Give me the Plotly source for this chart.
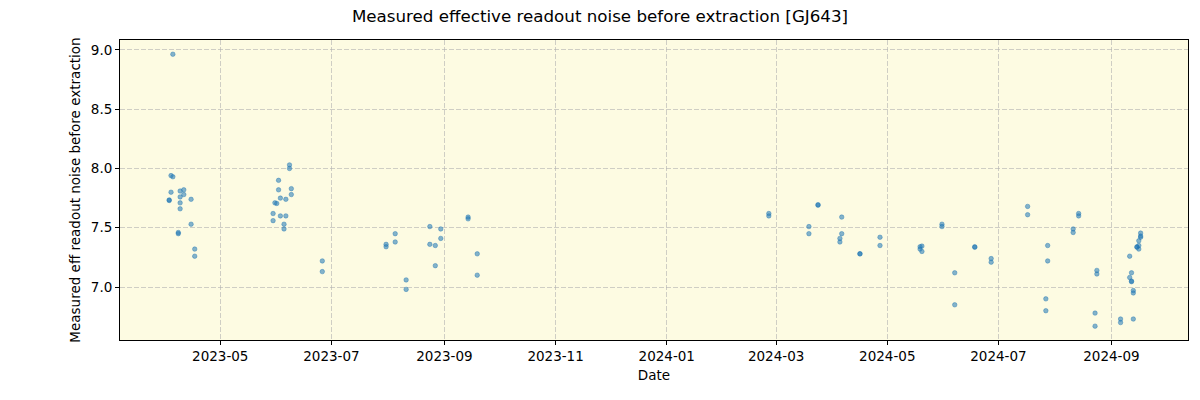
import plotly.graph_objects as go

dates = [
    "2023-04-05", "2023-04-04", "2023-04-05", "2023-04-04", "2023-04-03", "2023-04-03",
    "2023-04-09", "2023-04-11", "2023-04-09", "2023-04-11", "2023-04-09", "2023-04-09",
    "2023-04-15", "2023-04-15", "2023-04-08", "2023-04-08", "2023-04-17", "2023-04-17",
    "2023-06-08", "2023-06-08", "2023-06-02", "2023-06-02", "2023-06-09", "2023-06-09",
    "2023-06-03", "2023-06-06", "2023-05-31", "2023-06-01", "2023-05-30", "2023-06-03",
    "2023-06-06", "2023-05-30", "2023-06-05", "2023-06-05", "2023-06-26", "2023-06-26",
    "2023-07-31", "2023-07-31", "2023-08-05", "2023-08-05", "2023-08-11", "2023-08-11",
    "2023-08-24", "2023-08-24", "2023-08-27", "2023-08-27", "2023-08-30", "2023-08-30",
    "2023-09-14", "2023-09-14", "2023-09-19", "2023-09-19",
    "2024-02-26", "2024-02-26", "2024-03-24", "2024-03-24", "2024-03-19", "2024-03-19",
    "2024-04-06", "2024-04-06", "2024-04-05", "2024-04-05", "2024-04-16", "2024-04-16",
    "2024-04-27", "2024-04-27", "2024-05-19", "2024-05-20", "2024-05-19", "2024-05-20",
    "2024-05-31", "2024-05-31", "2024-06-18", "2024-06-18", "2024-06-07", "2024-06-07",
    "2024-06-27", "2024-06-27", "2024-07-17", "2024-07-17", "2024-07-28", "2024-07-28",
    "2024-07-27", "2024-07-27", "2024-08-11", "2024-08-11", "2024-08-14", "2024-08-14",
    "2024-08-24", "2024-08-24", "2024-08-23", "2024-08-23", "2024-09-06", "2024-09-06",
    "2024-09-13", "2024-09-11", "2024-09-12", "2024-09-11", "2024-09-12", "2024-09-12",
    "2024-09-13", "2024-09-13", "2024-09-17", "2024-09-17", "2024-09-17", "2024-09-16",
    "2024-09-15", "2024-09-15", "2024-09-16", "2024-09-16",
]
noise = [
    8.964, 7.94, 7.93, 7.80, 7.73, 7.735,
    7.81, 7.82, 7.76, 7.78, 7.71, 7.66,
    7.74, 7.53, 7.46, 7.45, 7.32, 7.26,
    8.03, 8.00, 7.90, 7.82, 7.83, 7.78,
    7.75, 7.74, 7.71, 7.705, 7.62, 7.60,
    7.60, 7.56, 7.53, 7.49, 7.22, 7.13,
    7.36, 7.34, 7.45, 7.38, 7.06, 6.98,
    7.51, 7.36, 7.35, 7.18, 7.49, 7.41,
    7.59, 7.575, 7.28, 7.10,
    7.62, 7.60, 7.69, 7.695, 7.51, 7.45,
    7.59, 7.45, 7.41, 7.38, 7.28, 7.28,
    7.42, 7.35, 7.34, 7.345, 7.32, 7.30,
    7.53, 7.51, 7.335, 7.34, 7.12, 6.85,
    7.24, 7.21, 7.68, 7.61, 7.35, 7.22,
    6.90, 6.80, 7.49, 7.46, 7.62, 7.60,
    7.14, 7.11, 6.78, 6.67, 6.73, 6.70,
    6.73, 7.26, 7.12, 7.08, 7.05, 7.045,
    6.97, 6.95, 7.455, 7.43, 7.42, 7.39,
    7.335, 7.34, 7.35, 7.32,
]

title = "Measured effective readout noise before extraction [GJ643]"
y_title = "Measured eff readout noise before extraction"
x_title = "Date"

fig = go.Figure()
fig.add_trace(go.Scatter(
    x=dates, y=noise, mode="markers",
    marker=dict(color="rgba(31,119,180,0.55)", size=4.5,
                line=dict(width=0.6, color="rgba(31,119,180,0.7)")),
    showlegend=False,
))

axis_common = dict(
    showline=True, linecolor="black", linewidth=1, mirror=True,
    ticks="outside", ticklen=4, tickcolor="black",
    showgrid=True, gridcolor="rgba(176,176,176,0.6)", griddash="5px,2px", gridwidth=1,
    zeroline=False,
    tickfont=dict(family="DejaVu Sans", size=13.5, color="black"),
    title_font=dict(family="DejaVu Sans", size=13.5, color="black"),
)

fig.update_layout(
    width=1200, height=400,
    margin=dict(l=120, r=12, t=40, b=60),
    paper_bgcolor="white",
    plot_bgcolor="rgb(253,251,226)",
    title=dict(text=title, x=0.5, xanchor="center", y=0.96, yanchor="middle",
               font=dict(family="DejaVu Sans", size=16.7, color="black")),
    xaxis=dict(axis_common, title=dict(text=x_title, standoff=7),
               range=["2023-03-07", "2024-10-13"],
               tick0="2023-05-01", dtick="M2", tickformat="%Y-%m"),
    yaxis=dict(axis_common, title=dict(text=y_title, standoff=7),
               range=[6.553, 9.084], dtick=0.5, tickformat=".1f"),
)

fig.write_html("out.html")
